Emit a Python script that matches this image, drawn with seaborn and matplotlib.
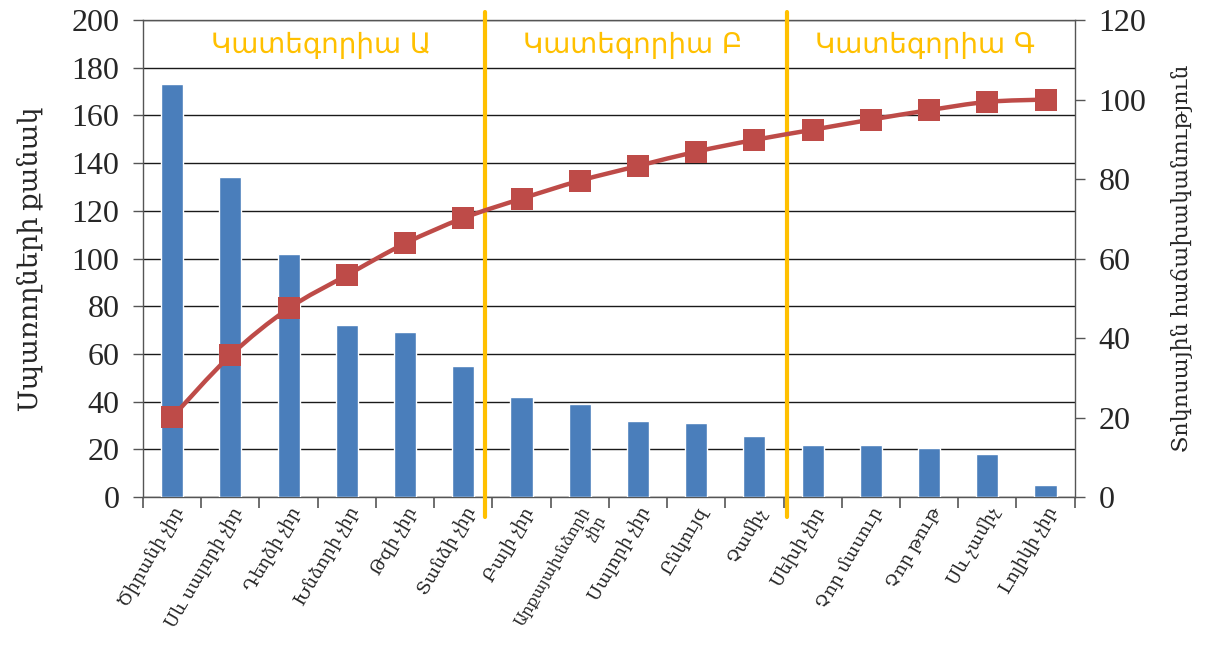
import numpy as np
import pandas as pd
import seaborn as sns
import matplotlib
matplotlib.use("Agg")
import matplotlib.pyplot as plt
from matplotlib.path import Path
from matplotlib.patches import PathPatch

# Dried fruit products, sorted by number of consumers
products = [
    "Ծիրանի չիր", "Սև սալորի չիր", "Դեղձի չիր", "Խնձորի չիր", "Թզի չիր",
    "Տանձի չիր", "Բալի չիր", "Արքայախնձորի\nչիր", "Սալորի չիր", "Ընկույզ",
    "Չամիչ", "Սեխի չիր", "Չոր մասուր", "Չոր թութ", "Սև չամիչ", "Լոլիկի չիր",
]
consumers = [173, 134, 102, 72, 69, 55, 42, 39, 32, 31, 25.5, 22, 22, 20.5, 18, 5]
category_names = ["Կատեգորիա Ա", "Կատեգորիա Բ", "Կատեգորիա Գ"]
left_ticks = [0, 20, 40, 60, 80, 100, 120, 140, 160, 180, 200]
right_ticks = [0, 20, 40, 60, 80, 100, 120]

df = pd.DataFrame({"product": products, "consumers": consumers})
df["cum_pct"] = df["consumers"].cumsum() / df["consumers"].sum() * 100

BAR = "#4A7EBB"
LINE = "#BE4B48"
GOLD = "#FFC000"
SERIF = ["Liberation Serif", "DejaVu Serif"]

sns.set_theme(style="white")
plt.rcParams["font.family"] = SERIF

fig = plt.figure(figsize=(12.06, 6.48), dpi=100)
ax = fig.add_axes([0.1186, 0.233, 0.7725, 0.736])

sns.barplot(data=df, x="product", y="consumers", color=BAR, width=0.38,
            saturation=1, ax=ax, zorder=3)

ax.set_xlim(-0.5, len(products) - 0.5)
ax.set_ylim(0, 200)
ax.set_yticks(left_ticks)
ax.yaxis.grid(True, color="#1a1a1a", linewidth=1.0, zorder=0)
ax.set_axisbelow(True)
ax.tick_params(axis="y", labelsize=23, length=7, width=1, color="#555555",
               direction="out", left=True, pad=10)
ax.set_ylabel("Սպառողների քանակ", fontsize=19.5, labelpad=20)
ax.set_xlabel("")

# product names at category centres, ticks at category boundaries
ax.set_xticks(range(len(products)))
ax.set_xticklabels(products, rotation=60, ha="right", rotation_mode="anchor",
                   fontsize=13, multialignment="right", linespacing=1.2)
for lbl in ax.get_xticklabels():
    if "\n" in lbl.get_text():
        lbl.set_fontsize(11.5)
ax.tick_params(axis="x", which="major", length=0, pad=5)
ax.set_xticks(np.arange(-0.5, len(products), 1.0), minor=True)
ax.tick_params(axis="x", which="minor", length=8, width=1.2, color="#555555",
               direction="out", bottom=True)

for side in ["left", "right", "bottom", "top"]:
    ax.spines[side].set_color("#555555")
    ax.spines[side].set_linewidth(1.0)

# cumulative percentage on the secondary axis
ax2 = ax.twinx()
ax2.set_ylim(0, 120)
ax2.set_yticks(right_ticks)
ax2.tick_params(axis="y", labelsize=23, length=7, width=1, color="#555555",
                direction="out", right=True, pad=10)
ax2.set_ylabel("Տոկոսային հաճախականություն", fontsize=16, rotation=90,
               labelpad=18)
ax2.grid(False)
for side in ["left", "right", "bottom", "top"]:
    ax2.spines[side].set_visible(False)

xs = np.arange(len(df), dtype=float)
ys = df["cum_pct"].to_numpy()

# smoothed connecting curve (Catmull-Rom segments as cubic Beziers)
verts = [(xs[0], ys[0])]
codes = [Path.MOVETO]
n = len(xs)
for i in range(n - 1):
    p0 = np.array([xs[max(i - 1, 0)], ys[max(i - 1, 0)]])
    p1 = np.array([xs[i], ys[i]])
    p2 = np.array([xs[i + 1], ys[i + 1]])
    p3 = np.array([xs[min(i + 2, n - 1)], ys[min(i + 2, n - 1)]])
    c1 = p1 + (p2 - p0) / 6.0
    c2 = p2 - (p3 - p1) / 6.0
    verts += [tuple(c1), tuple(c2), tuple(p2)]
    codes += [Path.CURVE4] * 3
ax2.add_patch(PathPatch(Path(verts, codes), facecolor="none", edgecolor=LINE,
                        linewidth=3.2, zorder=4, capstyle="round"))
sns.scatterplot(x=xs, y=ys, ax=ax2, marker="s", s=240, color=LINE,
                edgecolor=LINE, linewidth=0, zorder=5, legend=False)

# category dividers and names
trans = ax.get_xaxis_transform()
for xd in [5.37, 10.56]:
    ax.plot([xd, xd], [-0.042, 1.017], transform=trans, color=GOLD,
            linewidth=3, clip_on=False, zorder=6)
for name, xc in zip(category_names, [2.56, 7.91, 12.92]):
    ax.text(xc, 0.948, name, transform=trans, ha="center", va="center",
            color=GOLD, fontsize=20, family=["DejaVu Sans"], zorder=6)

fig.savefig("out.png", dpi=100)
